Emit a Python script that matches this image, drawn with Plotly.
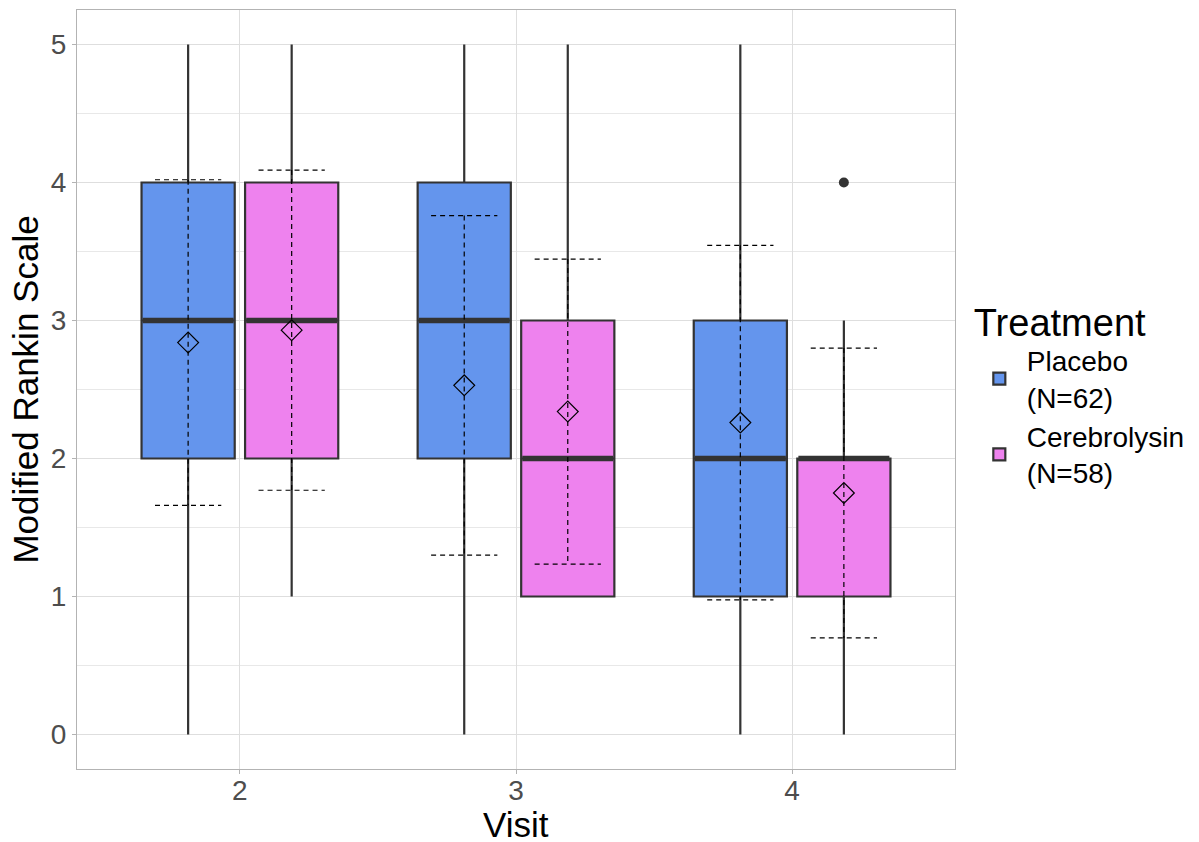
import plotly.graph_objects as go

visits = [2, 3, 4]
tick_labels = ["2", "3", "4"]
groups = ["Placebo<br>(N=62)", "Cerebrolysin<br>(N=58)"]
fills = ["#6495ED", "#EE82EE"]

# box statistics per group, per visit
q1 = [[2, 2, 1], [2, 1, 1]]
median = [[3, 3, 2], [3, 2, 2]]
q3 = [[4, 4, 3], [4, 3, 2]]
lower = [[0, 0, 0], [1, 1, 0]]
upper = [[5, 5, 5], [5, 5, 3]]

# means and SD
means = [[2.84, 2.53, 2.26], [2.93, 2.34, 1.75]]
sds = [[1.18, 1.23, 1.285], [1.16, 1.105, 1.05]]

# outliers (group index, visit, value)
outlier_group = [1]
outlier_visit = [4]
outlier_value = [4]

dodge = 0.375
box_w = 0.3375
err_w = 0.24
offsets = [-dodge / 2, dodge / 2]
dark = "#333333"

fig = go.Figure()

for g in range(2):
    xs = [v + offsets[g] for v in visits]
    fig.add_trace(go.Box(
        x=xs, q1=q1[g], median=median[g], q3=q3[g],
        lowerfence=lower[g], upperfence=upper[g],
        width=box_w, whiskerwidth=0,
        fillcolor=fills[g], line=dict(color=dark, width=2.2),
        name=groups[g], boxpoints=False, hoverinfo="skip",
    ))

for g in range(2):
    xs = [v + offsets[g] for v in visits]
    # thick median
    mx, my = [], []
    for x, m in zip(xs, median[g]):
        mx += [x - box_w / 2 + 0.004, x + box_w / 2 - 0.004, None]
        my += [m, m, None]
    fig.add_trace(go.Scatter(x=mx, y=my, mode="lines",
                             line=dict(color=dark, width=5.5),
                             showlegend=False, hoverinfo="skip"))
    # dashed mean +- sd error bars
    ex, ey = [], []
    for x, m, s in zip(xs, means[g], sds[g]):
        lo, hi = m - s, m + s
        ex += [x - err_w / 2, x + err_w / 2, None,
               x, x, None,
               x - err_w / 2, x + err_w / 2, None]
        ey += [hi, hi, None, hi, lo, None, lo, lo, None]
    fig.add_trace(go.Scatter(x=ex, y=ey, mode="lines",
                             line=dict(color="black", width=1.2, dash="5px,4px"),
                             showlegend=False, hoverinfo="skip"))
    # mean diamonds
    fig.add_trace(go.Scatter(x=xs, y=means[g], mode="markers",
                             marker=dict(symbol="diamond-open", size=16,
                                         color="black", line=dict(width=1.2)),
                             showlegend=False, hoverinfo="skip"))

# outliers
fig.add_trace(go.Scatter(
    x=[v + offsets[g] for g, v in zip(outlier_group, outlier_visit)],
    y=outlier_value, mode="markers",
    marker=dict(symbol="circle", size=10, color=dark),
    showlegend=False, hoverinfo="skip"))

fig.update_layout(
    width=1199, height=842,
    margin=dict(l=77, r=243, t=10, b=73),
    paper_bgcolor="white", plot_bgcolor="white",
    font=dict(family="Liberation Sans, Arial, sans-serif", color="black"),
    boxmode="overlay",
    showlegend=True,
    legend=dict(
        title=dict(text="Treatment", font=dict(size=38, color="black")),
        font=dict(size=28, color="black"),
        x=1.018, xanchor="left", y=0.636, yanchor="top",
        bgcolor="rgba(0,0,0,0)", tracegroupgap=0, itemwidth=45,
    ),
    annotations=[dict(
        text="Visit", xref="paper", yref="paper", x=0.5, y=-0.0725,
        xanchor="center", yanchor="middle", showarrow=False,
        font=dict(size=35, color="black"),
    )],
)

fig.update_xaxes(
    range=[1.41, 4.59], tickvals=visits, ticktext=tick_labels,
    showgrid=True, gridcolor="#DEDEDE", gridwidth=1,
    zeroline=False, showline=True, mirror=True, linecolor="#B3B3B3", linewidth=1.2,
    ticks="outside", ticklen=4, tickcolor="#B3B3B3",
    tickfont=dict(size=28, color="#4D4D4D"), ticklabelstandoff=-8,
    automargin=False,
)
fig.update_yaxes(
    range=[-0.25, 5.25], tickvals=[0, 1, 2, 3, 4, 5],
    showgrid=True, gridcolor="#DEDEDE", gridwidth=1,
    minor=dict(tickvals=[0.5, 1.5, 2.5, 3.5, 4.5], showgrid=True,
               gridcolor="#E8E8E8", gridwidth=0.8, ticks=""),
    zeroline=False, showline=True, mirror=True, linecolor="#B3B3B3", linewidth=1.2,
    ticks="outside", ticklen=4, tickcolor="#B3B3B3",
    tickfont=dict(size=28, color="#4D4D4D"),
    automargin=False,
    title=dict(text="Modified Rankin Scale", font=dict(size=35, color="black"), standoff=1),
)

fig.write_html(
    "out.html",
    config={"displayModeBar": False},
    post_script="document.body.style.margin='0';document.body.style.overflow='hidden';",
)
